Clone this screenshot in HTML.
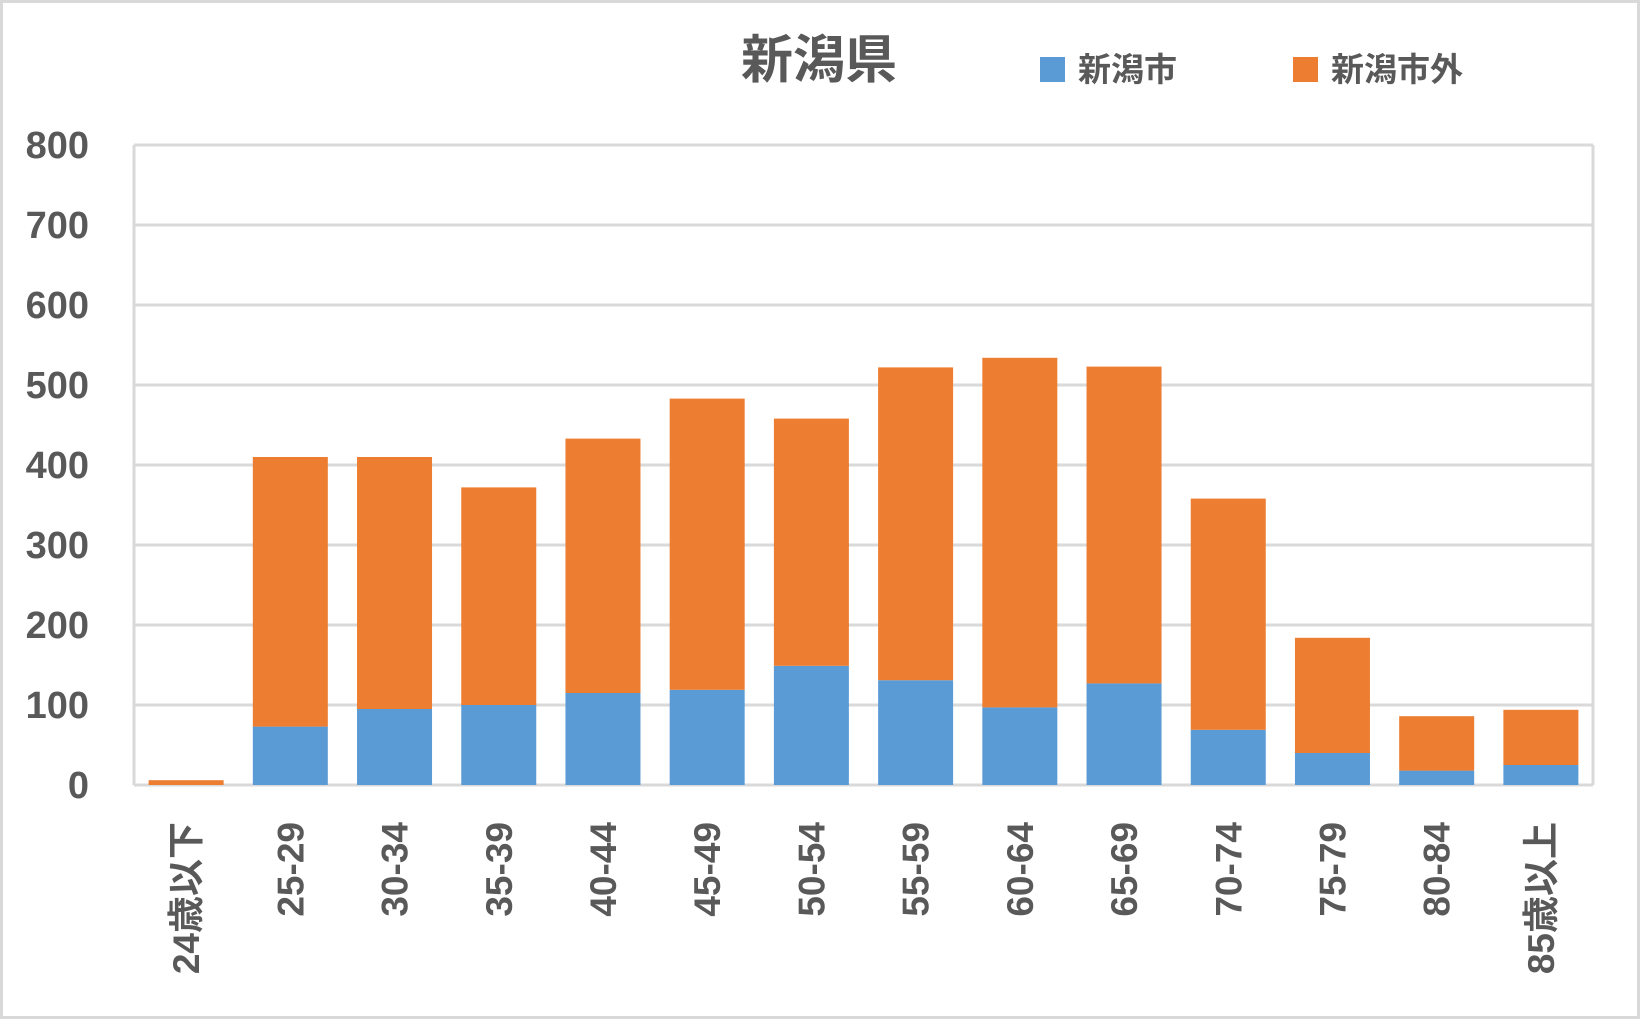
<!DOCTYPE html>
<html><head><meta charset="utf-8"><style>
html,body{margin:0;padding:0;background:#fff}
svg text{font-family:"Liberation Sans","Noto Sans CJK JP",sans-serif;font-weight:bold;fill:#595959}
</style></head><body>
<svg id="chart" width="1641" height="1020" xmlns="http://www.w3.org/2000/svg">
<rect x="1.5" y="1.5" width="1637" height="1016" fill="#fff" stroke="#d9d9d9" stroke-width="3"/>
<text x="819" y="78" font-size="52" text-anchor="middle">新潟県</text>
<g>
<rect x="1040" y="57" width="25" height="25" fill="#5b9bd5"/>
<text x="1078" y="81" font-size="33">新潟市</text>
<rect x="1293" y="57" width="25" height="25" fill="#ed7d31"/>
<text x="1331" y="81" font-size="33">新潟市外</text>
</g>
<g id="grid"></g><g id="bars"></g><g id="ylabels"></g><g id="xlabels"></g>
</svg>
<script>
const categories=["24歳以下","25-29","30-34","35-39","40-44","45-49","50-54","55-59","60-64","65-69","70-74","75-79","80-84","85歳以上"];
const cityValues=[0,73,95,100,115,119,149,131,97,127,69,40,18,25];
const outsideValues=[6,337,315,272,318,364,309,391,437,396,289,144,68,69];
const yTicks=[0,100,200,300,400,500,600,700,800];
const NS="http://www.w3.org/2000/svg";
const L=134,R=1593,T=145,B=785,maxY=800;
const y=v=>B-(v/maxY)*(B-T);
const band=(R-L)/categories.length;
const xc=i=>L+band*(i+0.5);
const bw=75;
function mk(t,a,p){const e=document.createElementNS(NS,t);for(const k in a)e.setAttribute(k,a[k]);p.appendChild(e);return e;}
const grid=document.getElementById('grid'),bars=document.getElementById('bars'),yl=document.getElementById('ylabels'),xl=document.getElementById('xlabels');
yTicks.forEach(v=>{
 const ln=mk('line',{x1:L,x2:R,y1:y(v),y2:y(v),stroke:'#d9d9d9','stroke-width':3},grid);
 
 
 const t=mk('text',{x:89,y:y(v)+13,'font-size':38,'text-anchor':'end'},yl);
 t.textContent=v;
 
 
});
const lv=mk('line',{x1:L,x2:L,y1:T,y2:B,stroke:'#d9d9d9','stroke-width':3},grid);


const rv=mk('line',{x1:R,x2:R,y1:T,y2:B,stroke:'#d9d9d9','stroke-width':3},grid);


categories.forEach((c,i)=>{
 const a=cityValues[i],b=outsideValues[i];
 const r1=mk('rect',{x:xc(i)-bw/2,y:y(a),width:bw,height:B-y(a),fill:'#5b9bd5'},bars);
 
 
 const r2=mk('rect',{x:xc(i)-bw/2,y:y(a+b),width:bw,height:y(a)-y(a+b),fill:'#ed7d31'},bars);
 
 
 const t=mk('text',{x:0,y:0,'font-size':37,'text-anchor':'end',transform:`translate(${xc(i)+13},822) rotate(-90)`},xl);
 t.textContent=c;
 
 
});
</script>
</body></html>
